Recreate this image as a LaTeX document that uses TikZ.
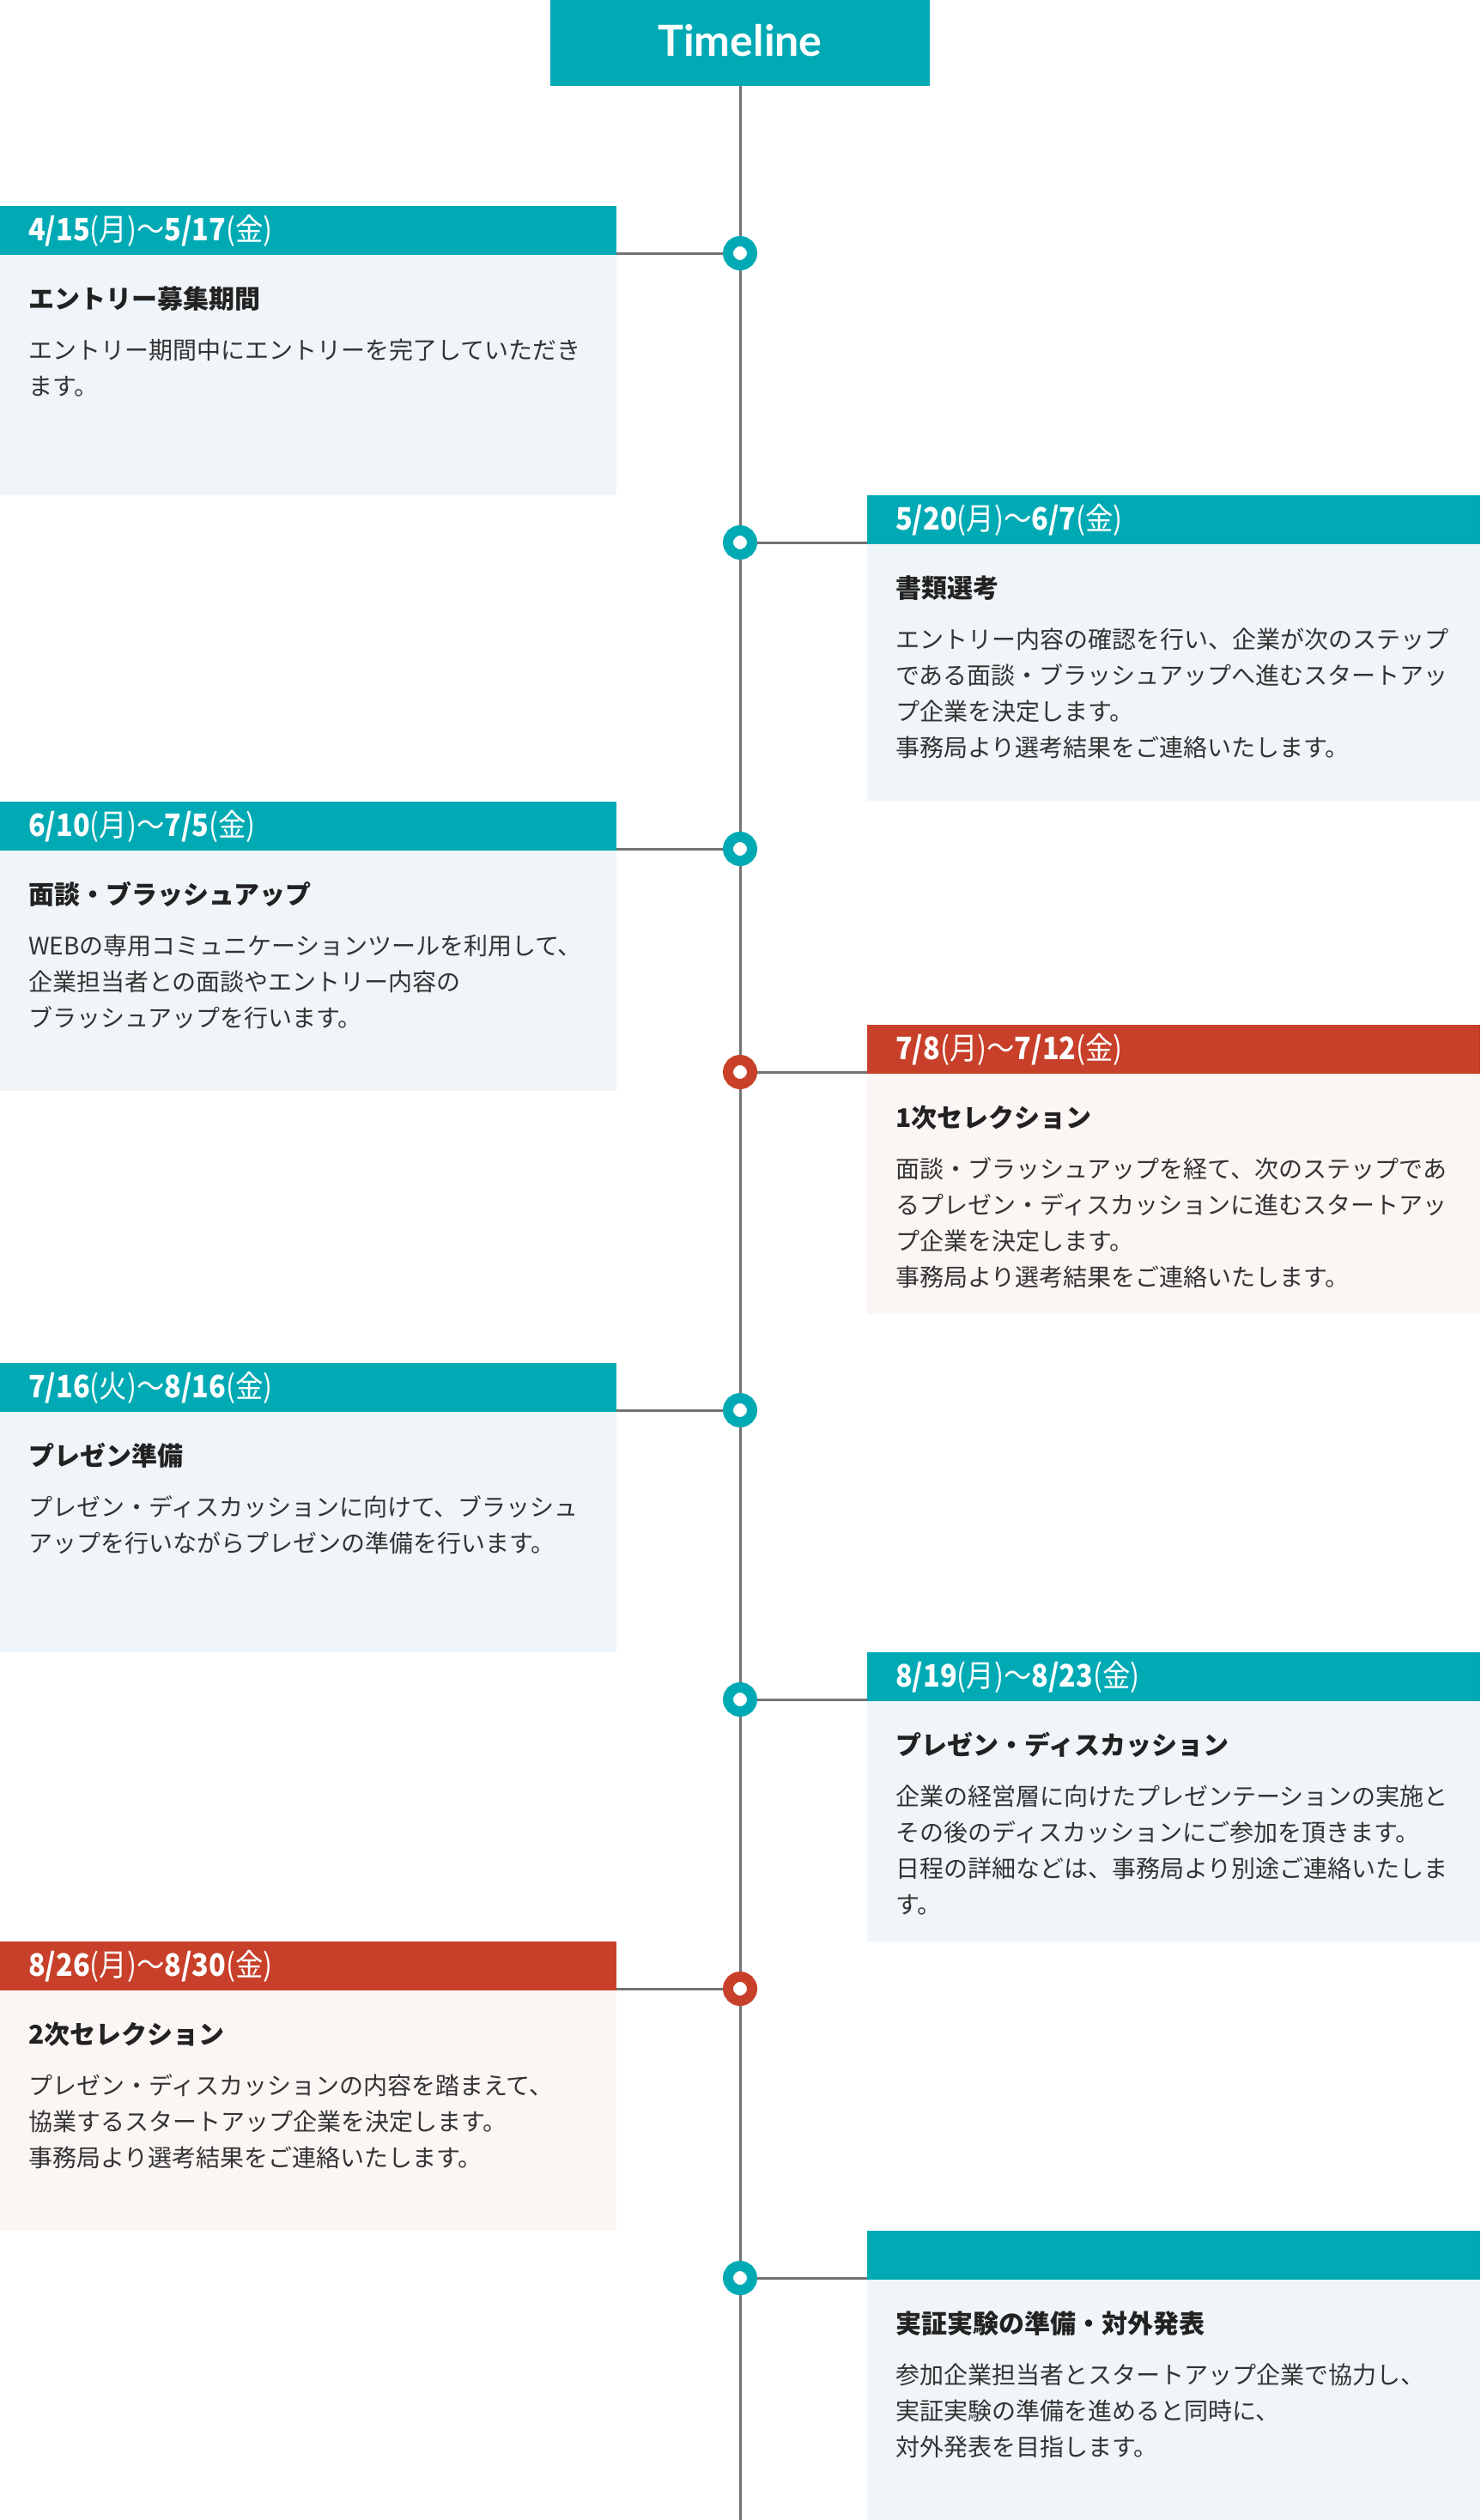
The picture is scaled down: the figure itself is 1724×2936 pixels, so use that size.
\documentclass[tikz,border=0pt]{standalone}
\usepackage{graphicx}
\usepackage{fontspec}
\setmainfont{Noto Sans CJK JP}
\newfontfamily\latofont{Lato}
\definecolor{hdrt}{HTML}{00AAB4}
\definecolor{hdrr}{HTML}{C8402A}
\definecolor{bodyt}{HTML}{EFF5F8}
\definecolor{bodyr}{HTML}{FBF6F4}
\definecolor{linegray}{HTML}{737373}
\definecolor{titlecol}{HTML}{222222}
\definecolor{textcol}{HTML}{333333}
\tikzset{
  hdrbox/.style={inner sep=0, minimum height=57pt, outer sep=0},
  datetxt/.style={inner sep=0, text=white, font=\fontsize{36}{40}\selectfont},
  titletxt/.style={inner sep=0, text=titlecol, font=\fontsize{30}{40}\selectfont\bfseries},
  bodytxt/.style={inner sep=0, text=textcol, font=\fontsize{28}{42}\selectfont},
  conn/.style={draw=linegray, line width=3pt},
  vline/.style={draw=linegray, line width=3pt},
  dot/.style={circle, fill=white, line width=12pt, minimum size=28pt, inner sep=0},
}
\newcommand\dt[4]{\scalebox{0.9}[1]{{\bfseries #1}(#2)〜{\bfseries #3}(#4)}}
% #1 name #2 x #3 side #4 top #5 scheme #6 height #7 date #8 title #9 lines
\newcommand\card[9]{%
  \pgfmathsetmacro\cw{#2==0?718:714}
  \fill[body#5] (#2,#4) rectangle ++(\cw,#6);
  \node[hdrbox, fill=hdr#5, minimum width=\cw pt, anchor=north west] (#1h) at (#2,#4) {};
  \node[datetxt, anchor=base west] (#1date) at (#2+33,#4+40) {#7};
  \node[titletxt, anchor=base west] (#1title) at (#2+33,#4+119.5) {#8};
  \foreach \bodyline [count=\i from 0] in {#9} {
    \node[bodytxt, anchor=base west] (#1l\i) at (#2+33,#4+178.5+42*\i) {\bodyline};
  }
  \coordinate (#1p) at (862,#4+55);
  \draw[conn] (#1p) -- (#1p -| #1h.#3);
  \node[dot, draw=hdr#5] (#1d) at (#1p) {};
}
\newcommand\leftcard[7]{\card{#1}{0}{east}{#2}{#3}{#4}{#5}{#6}{#7}}
\newcommand\rightcard[7]{\card{#1}{1010}{west}{#2}{#3}{#4}{#5}{#6}{#7}}
\begin{document}
\begin{tikzpicture}[x=1pt,y=-1pt]
\useasboundingbox (0,0) rectangle (1724,2936);
\fill[white] (0,0) rectangle (1724,2936);
\coordinate (lineend) at (862,2936);
\node[fill=hdrt, minimum width=442pt, minimum height=100pt, inner sep=0, anchor=north] (tl) at (862,0) {};
\draw[vline] (tl.south) -- (lineend);
\node[inner sep=0, anchor=base, text=white, font=\latofont\fontsize{50}{60}\selectfont\bfseries] (tltext) at (862,66) {Timeline};

\leftcard{c1}{240}{t}{337}{\dt{4/15}{月}{5/17}{金}}{エントリー募集期間}{エントリー期間中にエントリーを完了していただき,ます。}
\rightcard{c2}{577}{t}{356}{\dt{5/20}{月}{6/7}{金}}{書類選考}{エントリー内容の確認を行い、企業が次のステップ,である面談・ブラッシュアップへ進むスタートアッ,プ企業を決定します。,事務局より選考結果をご連絡いたします。}
\leftcard{c3}{934}{t}{337}{\dt{6/10}{月}{7/5}{金}}{面談・ブラッシュアップ}{WEBの専用コミュニケーションツールを利用して、,企業担当者との面談やエントリー内容の,ブラッシュアップを行います。}
\rightcard{c4}{1194}{r}{337}{\dt{7/8}{月}{7/12}{金}}{1次セレクション}{面談・ブラッシュアップを経て、次のステップであ,るプレゼン・ディスカッションに進むスタートアッ,プ企業を決定します。,事務局より選考結果をご連絡いたします。}
\leftcard{c5}{1588}{t}{337}{\dt{7/16}{火}{8/16}{金}}{プレゼン準備}{プレゼン・ディスカッションに向けて、ブラッシュ,アップを行いながらプレゼンの準備を行います。}
\rightcard{c6}{1925}{t}{337}{\dt{8/19}{月}{8/23}{金}}{プレゼン・ディスカッション}{企業の経営層に向けたプレゼンテーションの実施と,その後のディスカッションにご参加を頂きます。,日程の詳細などは、事務局より別途ご連絡いたしま,す。}
\leftcard{c7}{2262}{r}{337}{\dt{8/26}{月}{8/30}{金}}{2次セレクション}{プレゼン・ディスカッションの内容を踏まえて、,協業するスタートアップ企業を決定します。,事務局より選考結果をご連絡いたします。}
\rightcard{c8}{2599}{t}{337}{}{実証実験の準備・対外発表}{参加企業担当者とスタートアップ企業で協力し、,実証実験の準備を進めると同時に、,対外発表を目指します。}
\end{tikzpicture}
\end{document}
